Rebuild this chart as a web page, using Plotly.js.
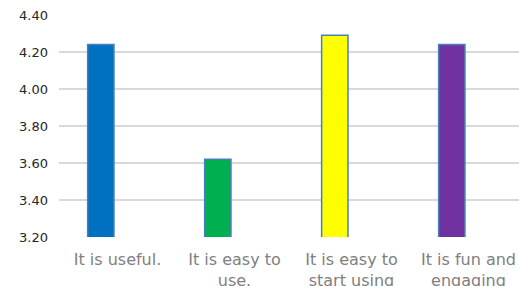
<!DOCTYPE html>
<html><head><meta charset="utf-8">
<script src="https://cdn.plot.ly/plotly-3.0.1.min.js"></script>
<style>html,body{margin:0;padding:0;background:#fff;overflow:hidden}</style>
</head><body>
<div id="chart" style="width:519px;height:286px"></div>
<script>
const categories = ["It is useful.", "It is easy to<br>use.", "It is easy to<br>start using", "It is fun and<br>engaging"];
const values = [4.24, 3.62, 4.29, 4.24];
const barColors = ["#0070C0", "#00B050", "#FFFF00", "#7030A0"];
const yTicks = [3.2, 3.4, 3.6, 3.8, 4.0, 4.2, 4.4];

Plotly.newPlot("chart", [{
  type: "bar",
  x: [0, 1, 2, 3],
  y: values,
  width: 0.225,
  offset: -0.255,
  marker: {color: barColors, line: {color: "#4A7EBB", width: 1.5}},
  hoverinfo: "none"
}], {
  width: 519, height: 286,
  margin: {l: 59, r: 0, t: 15, b: 49},
  paper_bgcolor: "#fff", plot_bgcolor: "#fff",
  showlegend: false,
  font: {family: "DejaVu Sans, Verdana, sans-serif"},
  xaxis: {
    range: [-0.5, 3.432],
    tickmode: "array", tickvals: [0, 1, 2, 3], ticktext: categories,
    showgrid: false, zeroline: false, showline: false, ticks: "",
    tickfont: {size: 16, color: "#808080"},
    ticklabelstandoff: 11
  },
  yaxis: {
    range: [3.2, 4.4],
    tickmode: "array", tickvals: yTicks, ticktext: yTicks.map(v => v.toFixed(2)),
    showgrid: true, gridcolor: "#D9D9D9", gridwidth: 2,
    zeroline: false, showline: false, ticks: "",
    tickfont: {size: 13, color: "#262626"},
    ticklabelstandoff: 10
  }
}, {displayModeBar: false, staticPlot: true});
</script>
</body></html>
